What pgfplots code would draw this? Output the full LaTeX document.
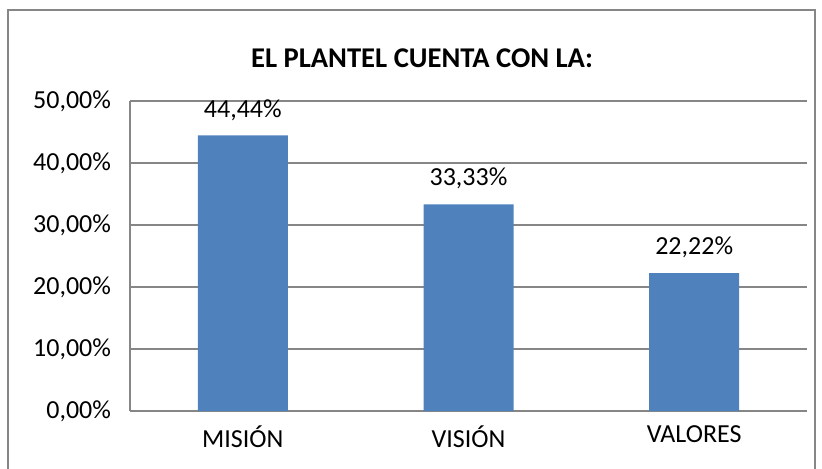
\documentclass[border=0pt]{standalone}
\usepackage{pgfplots}
\pgfplotsset{compat=1.18}
\usepackage{fontspec}
\setmainfont{Carlito}
\definecolor{barblue}{HTML}{4F81BD}
\definecolor{gridgray}{HTML}{868686}

\begin{document}
\begin{tikzpicture}[x=0.5pt,y=0.5pt]
% 1 unit = one pixel of the 822x468 reference, y counted from the bottom
\path[use as bounding box] (0,0) rectangle (822,468);
\draw[gridgray, line width=1pt] (8,-2) rectangle (815,458);
\node[font=\fontsize{14.3}{17}\selectfont\bfseries] at (422,410) {EL PLANTEL CUENTA CON LA:};
\begin{axis}[at={(65pt,28.5pt)}, anchor=south west,
  scale only axis, width=338.5pt, height=155pt,
  ybar, bar width=45pt,
  xmin=-0.5, xmax=2.5, xtick=data,
  xticklabels={MISIÓN,VISIÓN,VALORES},
  ymin=0, ymax=0.5, ytick={0,0.1,0.2,0.3,0.4,0.5},
  yticklabels={0{,}00\%,10{,}00\%,20{,}00\%,30{,}00\%,40{,}00\%,50{,}00\%},
  ymajorgrids, grid style={gridgray, line width=0.8pt},
  axis x line*=bottom, axis y line*=left,
  axis line style={gridgray, line width=0.8pt, -},
  major tick length=0pt,
  tick label style={font=\fontsize{13}{15}\selectfont},
  yticklabel style={xshift=-6pt},
  xticklabel style={yshift=-4pt},
  nodes near coords,
  nodes near coords style={font=\fontsize{13}{15}\selectfont, yshift=4pt},
  point meta=explicit symbolic,
  clip=false]
\addplot[fill=barblue, draw=none] coordinates {
  (0,0.4444) [44{,}44\%]
  (1,0.3333) [33{,}33\%]
  (2,0.2222) [22{,}22\%]
};
\end{axis}
\end{tikzpicture}
\end{document}
